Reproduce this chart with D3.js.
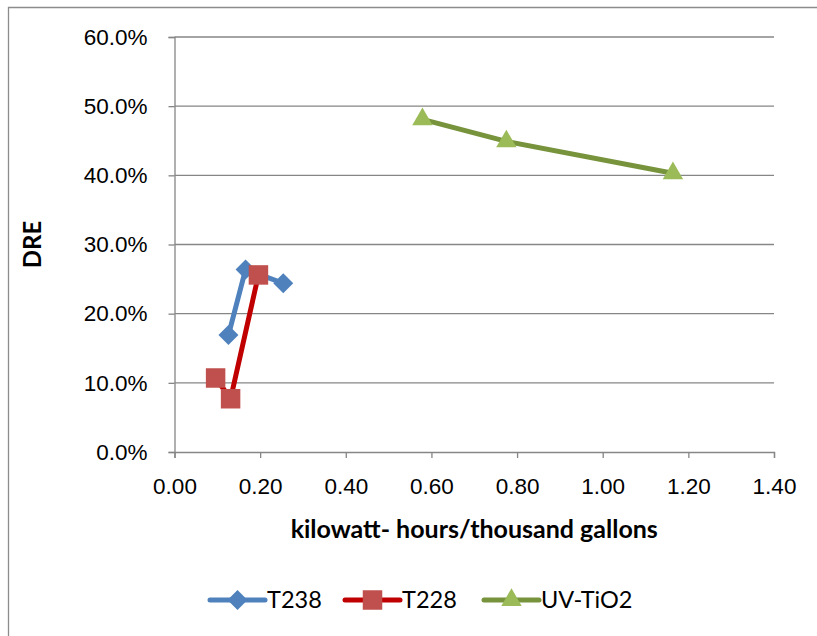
<!DOCTYPE html>
<html>
<head>
<meta charset="utf-8">
<script src="https://cdn.jsdelivr.net/npm/d3@7"></script>
<style>
  html, body { margin: 0; padding: 0; background: #fff; }
  svg { display: block; font-family: Lato, "Open Sans", sans-serif; }
</style>
</head>
<body>
<svg id="chart" width="817" height="636"></svg>
<script>
// Energy use (kWh per thousand gallons) versus DRE for each treatment
const seriesNames = ["T238", "T228", "UV-TiO2"];
const t238X = [0.126, 0.166, 0.254];
const t238Y = [0.169, 0.264, 0.244];
const t228X = [0.096, 0.131, 0.196];
const t228Y = [0.107, 0.077, 0.256];
const uvX = [0.579, 0.775, 1.164];
const uvY = [0.481, 0.449, 0.403];
const xTicks = [0, 0.2, 0.4, 0.6, 0.8, 1.0, 1.2, 1.4];
const yTicks = [0, 0.1, 0.2, 0.3, 0.4, 0.5, 0.6];

const diamond = { draw(ctx, size) { const r = Math.sqrt(size / 2); ctx.moveTo(0, -r); ctx.lineTo(r, 0); ctx.lineTo(0, r); ctx.lineTo(-r, 0); ctx.closePath(); } };

const series = [
  { name: seriesNames[0], xs: t238X, ys: t238Y, line: "#4f81bd", fill: "#4f81bd", shape: diamond, size: 200 },
  { name: seriesNames[1], xs: t228X, ys: t228Y, line: "#c00000", fill: "#c0504d", shape: d3.symbolSquare, size: 380 },
  { name: seriesNames[2], xs: uvX, ys: uvY, line: "#77933c", fill: "#9bbb59", shape: d3.symbolTriangle, size: 180 }
];

const svg = d3.select("#chart");
const grid = "#868686";

// chart frame (left and top edges visible)
svg.append("path")
  .attr("d", "M8.5,636 L8.5,7.5 L817,7.5")
  .attr("fill", "none").attr("stroke", "#8c8c8c").attr("stroke-width", 1.3);

const x = d3.scaleLinear().domain([0, 1.4]).range([174.5, 774]);
const y = d3.scaleLinear().domain([0, 0.6]).range([452, 37]);

// horizontal gridlines
svg.append("g").selectAll("line").data(yTicks.filter(d => d > 0)).join("line")
  .attr("x1", x(0)).attr("x2", x(1.4))
  .attr("y1", d => y(d)).attr("y2", d => y(d))
  .attr("stroke", grid).attr("stroke-width", 1.3);

const yAxis = svg.append("g").attr("transform", `translate(${x(0)},0)`)
  .call(d3.axisLeft(y).tickValues(yTicks).tickFormat(d3.format(".1%")).tickSize(6).tickPadding(21));
const xAxis = svg.append("g").attr("transform", `translate(0,${y(0)})`)
  .call(d3.axisBottom(x).tickValues(xTicks).tickFormat(d3.format(".2f")).tickSize(6).tickPadding(20));

[yAxis, xAxis].forEach(g => {
  g.select(".domain").attr("stroke", grid).attr("stroke-width", 1.3);
  g.selectAll(".tick line").attr("stroke", grid).attr("stroke-width", 1.3);
  g.selectAll(".tick text").attr("fill", "#000").style("font-size", "22.5px");
});

// axis titles
svg.append("text").attr("transform", `translate(41,${(y(0) + y(0.6)) / 2}) rotate(-90)`)
  .attr("text-anchor", "middle").attr("font-weight", "bold").style("font-size", "24px").text("DRE");
svg.append("text").attr("x", (x(0) + x(1.4)) / 2).attr("y", 538)
  .attr("text-anchor", "middle").attr("font-weight", "bold").style("font-size", "25px")
  .text("kilowatt- hours/thousand gallons");

const line = d3.line().x(d => x(d[0])).y(d => y(d[1]));

series.forEach(s => {
  const pts = s.xs.map((v, i) => [v, s.ys[i]]);
  svg.append("path").datum(pts).attr("d", line)
    .attr("fill", "none").attr("stroke", s.line).attr("stroke-width", 5)
    .attr("stroke-linejoin", "round").attr("stroke-linecap", "round");
  svg.append("g").selectAll("path").data(pts).join("path")
    .attr("transform", d => `translate(${x(d[0])},${y(d[1])})`)
    .attr("d", d3.symbol().type(s.shape).size(s.size))
    .attr("fill", s.fill);
});

// legend
const legendX = [210, 345, 484];
series.forEach((s, i) => {
  const g = svg.append("g").attr("transform", `translate(${legendX[i]},600)`);
  g.append("line").attr("x1", 0).attr("x2", 55).attr("y1", 0).attr("y2", 0)
    .attr("stroke", s.line).attr("stroke-width", 5).attr("stroke-linecap", "round");
  g.append("path").attr("transform", "translate(27.5,0)")
    .attr("d", d3.symbol().type(s.shape).size(s.size))
    .attr("fill", s.fill);
  g.append("text").attr("x", 57).attr("y", 0).attr("dy", "0.35em")
    .style("font-size", "23.5px").text(s.name);
});
</script>
</body>
</html>
